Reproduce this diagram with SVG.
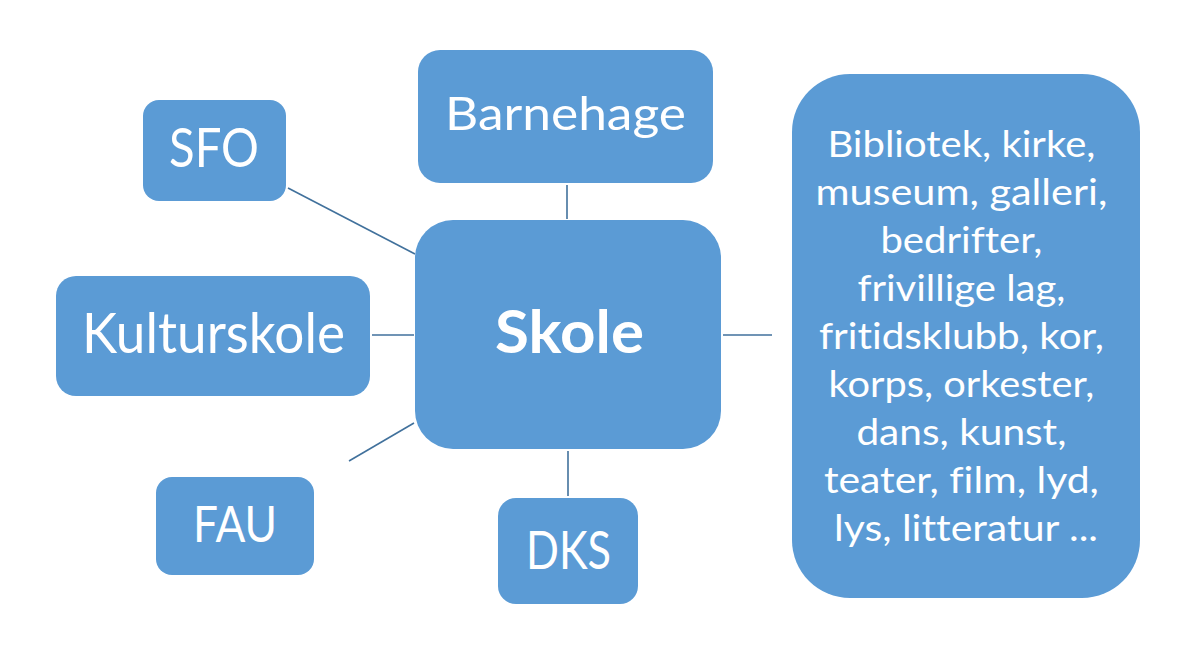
<svg xmlns="http://www.w3.org/2000/svg" width="1199" height="661" viewBox="0 0 1199 661">
<style>
.box{fill:#5B9BD5;}
.t{fill:#FFFFFF;font-family:Lato,"Liberation Sans",sans-serif;text-anchor:middle;font-variant-ligatures:none;}
.b{font-weight:bold;}
.c{stroke:#41719C;stroke-width:1.6;fill:none;}
</style>
<rect width="1199" height="661" fill="#FFFFFF"/>
<g id="connectors">
<line class="c" x1="288" y1="188" x2="415" y2="254"/>
<line class="c" x1="567" y1="185" x2="567" y2="219"/>
<line class="c" x1="372" y1="335" x2="414" y2="335"/>
<line class="c" x1="349" y1="461" x2="414" y2="423"/>
<line class="c" x1="568" y1="451" x2="568" y2="496"/>
<line class="c" x1="723" y1="335" x2="772" y2="335"/>
</g>
<g id="sfo">
<rect class="box" x="143" y="100" width="143" height="101" rx="16"/>
<text class="t" x="214" y="167" font-size="54" textLength="90" lengthAdjust="spacingAndGlyphs">SFO</text>
</g>
<g id="barnehage">
<rect class="box" x="418" y="50" width="295" height="133" rx="22"/>
<text class="t" x="565.5" y="130" font-size="47" textLength="241" lengthAdjust="spacingAndGlyphs">Barnehage</text>
</g>
<g id="skole">
<rect class="box" x="415" y="220" width="306" height="229" rx="38"/>
<text class="t b" x="569.5" y="353" font-size="60" textLength="149" lengthAdjust="spacingAndGlyphs">Skole</text>
</g>
<g id="kulturskole">
<rect class="box" x="56" y="276" width="314" height="120" rx="20"/>
<text class="t" x="213.5" y="353" font-size="56" textLength="263" lengthAdjust="spacingAndGlyphs">Kulturskole</text>
</g>
<g id="fau">
<rect class="box" x="156" y="477" width="158" height="98" rx="16"/>
<text class="t" x="235" y="542" font-size="50" textLength="84" lengthAdjust="spacingAndGlyphs">FAU</text>
</g>
<g id="dks">
<rect class="box" x="498" y="498" width="140" height="106" rx="18"/>
<text class="t" x="568.5" y="569" font-size="53" textLength="85" lengthAdjust="spacingAndGlyphs">DKS</text>
</g>
<g id="andre">
<rect class="box" x="792" y="74" width="348" height="524" rx="58"/>
<text class="t" font-size="36">
<tspan x="966" y="157" textLength="268" lengthAdjust="spacingAndGlyphs">Bibliotek, kirke,</tspan>
<tspan x="966" y="205" textLength="292" lengthAdjust="spacingAndGlyphs">museum, galleri,</tspan>
<tspan x="966" y="253" textLength="162" lengthAdjust="spacingAndGlyphs">bedrifter,</tspan>
<tspan x="966" y="301" textLength="208" lengthAdjust="spacingAndGlyphs">frivillige lag,</tspan>
<tspan x="966" y="349" textLength="285" lengthAdjust="spacingAndGlyphs">fritidsklubb, kor,</tspan>
<tspan x="966" y="397" textLength="266" lengthAdjust="spacingAndGlyphs">korps, orkester,</tspan>
<tspan x="966" y="445" textLength="210" lengthAdjust="spacingAndGlyphs">dans, kunst,</tspan>
<tspan x="966" y="493" textLength="275" lengthAdjust="spacingAndGlyphs">teater, film, lyd,</tspan>
<tspan x="966" y="541" textLength="264" lengthAdjust="spacingAndGlyphs">lys, litteratur ...</tspan>
</text>
</g>
</svg>
